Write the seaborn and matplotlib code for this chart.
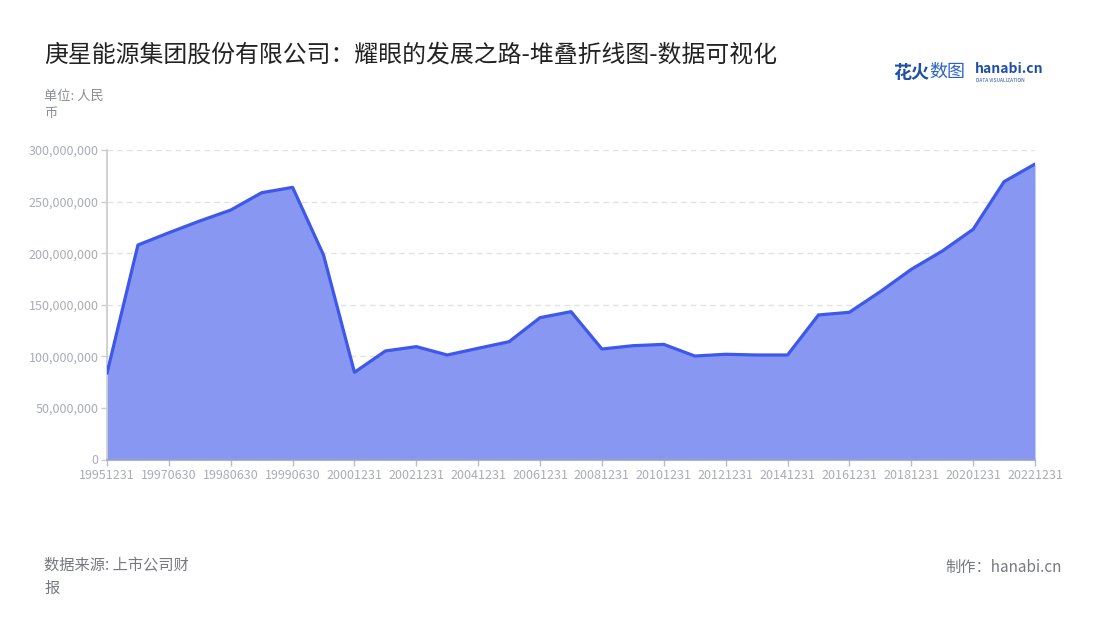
import matplotlib
matplotlib.use("Agg")
import matplotlib.pyplot as plt
from matplotlib.ticker import FuncFormatter
import seaborn as sns
import pandas as pd

# report dates (every 2nd one shown on the axis)
dates = [
    "19951231", "19961231", "19970630", "19971231", "19980630", "19981231",
    "19990630", "19991231", "20001231", "20011231", "20021231", "20031231",
    "20041231", "20051231", "20061231", "20071231", "20081231", "20091231",
    "20101231", "20111231", "20121231", "20131231", "20141231", "20151231",
    "20161231", "20171231", "20181231", "20191231", "20201231", "20211231",
    "20221231",
]
# values in RMB
values = [
    83.6e6, 207.9e6, 219.8e6, 231.2e6, 241.8e6, 258.6e6,
    263.8e6, 198.2e6, 84.5e6, 105.2e6, 109.4e6, 101.3e6,
    107.8e6, 114.2e6, 137.5e6, 143.3e6, 107.1e6, 110.3e6,
    111.6e6, 100.3e6, 102.0e6, 101.3e6, 101.3e6, 140.1e6,
    142.7e6, 162.7e6, 184.3e6, 202.0e6, 223.1e6, 269.3e6,
    286.4e6,
]
y_ticks = [0, 50e6, 100e6, 150e6, 200e6, 250e6, 300e6]

title = "庚星能源集团股份有限公司：耀眼的发展之路-堆叠折线图-数据可视化"
unit = "单位: 人民\n币"
source = "数据来源: 上市公司财\n报"
credit = "制作：hanabi.cn"

sns.set_theme(style="white")
plt.rcParams['font.family'] = ['Noto Sans CJK SC', 'DejaVu Sans']

df = pd.DataFrame({"idx": range(len(dates)), "date": dates, "value": values})

line_color = "#3d58ea"
fill_color = "#8898f2"
tick_color = "#aaadb8"

fig = plt.figure(figsize=(11, 6.2), dpi=100)
ax = fig.add_axes([107 / 1100, 1 - 459.5 / 620, (1035 - 107) / 1100, (459.5 - 150) / 620])

ax.fill_between(df["idx"], df["value"], 0, color=fill_color, linewidth=0, zorder=2)
sns.lineplot(data=df, x="idx", y="value", ax=ax, color=line_color, linewidth=2.3, zorder=3)

ax.set_xlim(0, len(dates) - 1)
ax.set_ylim(0, 300e6)
ax.set_yticks(y_ticks)
ax.yaxis.set_major_formatter(FuncFormatter(lambda v, p: f"{int(v):,}"))
ax.set_xticks(df["idx"][::2])
ax.set_xticklabels(df["date"][::2])
ax.set_xlabel("")
ax.set_ylabel("")

ax.grid(axis="y", color="#e2e2e2", linestyle=(0, (4, 3)), linewidth=1, zorder=0)
for side in ["top", "right"]:
    ax.spines[side].set_visible(False)
ax.spines["left"].set_color("#cccccc")
ax.spines["bottom"].set_color("#9aa3c8")
ax.tick_params(axis="both", colors=tick_color, labelsize=9, length=4, width=1,
               bottom=True, left=True)
ax.tick_params(axis="x", colors="#b8bcc8", labelcolor=tick_color, pad=3)
ax.tick_params(axis="y", colors="#cccccc", labelcolor=tick_color, pad=2)

fig.text(44 / 1100, 1 - 55 / 620, title, fontsize=17.2, color="#222222", va="center")
fig.text(44 / 1100, 1 - 105 / 620, unit, fontsize=9.5, color="#8a8d96", va="center",
         linespacing=1.5)
fig.text(44 / 1100, 1 - 577 / 620, source, fontsize=11, color="#77797f", va="center",
         linespacing=1.5)
fig.text(1062 / 1100, 1 - 567 / 620, credit, fontsize=11, color="#77797f", va="center",
         ha="right")

# logo
fig.text(893 / 1100, 1 - 72 / 620, "花火", fontsize=13, color="#1f4fa8", va="center",
         fontweight="bold")
fig.text(929 / 1100, 1 - 72 / 620, "数图", fontsize=13, color="#2a64c8", va="center")
fig.text(975 / 1100, 1 - 69 / 620, "hanabi.cn", fontsize=10, color="#1f4fa8", va="center",
         fontweight="bold")
fig.text(976 / 1100, 1 - 80 / 620, "DATA VISUALIZATION", fontsize=3.5, color="#1f4fa8",
         va="center")

fig.savefig("out.png", dpi=100)
